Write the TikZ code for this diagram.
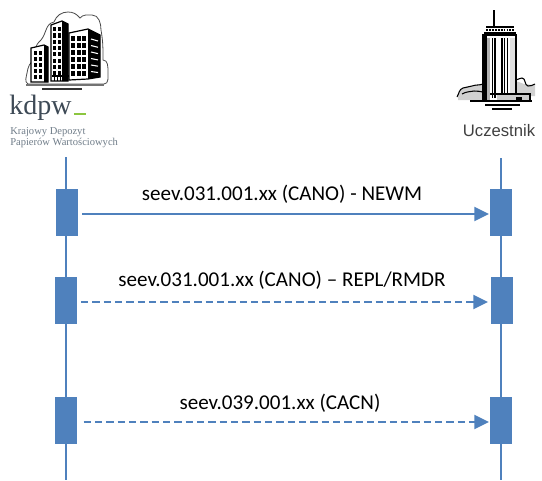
\documentclass[tikz,border=0pt]{standalone}
\usepackage{fontspec}
\setmainfont{Carlito}
\newfontfamily\arialf{Liberation Sans}
\newfontfamily\serifm{Liberation Serif}
\usetikzlibrary{arrows.meta}
\definecolor{blu}{HTML}{4F81BD}
\definecolor{kdpwtxt}{HTML}{3E4A56}
\definecolor{kdpwgray}{HTML}{6F7C88}
\definecolor{kdpwgreen}{HTML}{8CC63F}
\definecolor{ucz}{HTML}{404040}
\begin{document}
\begin{tikzpicture}[x=0.75pt,y=-0.75pt,
  lifeline/.style={draw=blu,line width=1.5pt},
  actbox/.style={fill=blu,draw=none,minimum width=16.5pt,minimum height=35.25pt,inner sep=0pt,outer sep=0pt},
  msg/.style={draw=blu,line width=1.5pt,-{Triangle[length=11pt,width=10.5pt]},shorten >=0.75pt},
  msgd/.style={msg,dash pattern=on 5.5pt off 3pt},
  lbl/.style={font=\fontsize{15.8}{19}\selectfont,anchor=base,inner sep=0pt},
  ink/.style={line width=0.9pt,draw=black},
  cloudline/.style={line width=0.6pt,draw=black!70},
  win/.style={fill=black},
]
\useasboundingbox (0,0) rectangle (542,480);

% ---------- kdpw building illustration ----------
\draw[cloudline,fill=white] (28,84) to[out=150,in=260] (27,73) to[out=80,in=200] (35,60)
  to[out=100,in=220] (41,40) to[out=50,in=190] (54,22) to[out=70,in=180] (68,12)
  to[out=0,in=130] (80,18) to[out=50,in=180] (92,15) to[out=0,in=90] (101,30)
  to[out=-80,in=90] (103,60) to[out=0,in=90] (108,72) to[out=-90,in=0] (104,84) -- cycle;
% left building
\draw[ink,fill=white] (31,48) -- (44,45) -- (48,47) -- (48,82) -- (31,82) -- cycle;
\fill (44,45) -- (48,47) -- (48,82) -- (44,82) -- cycle;
\foreach \r in {0,...,4}{\foreach \c in {0,1}{\fill[win] (33.5+\c*5,51+\r*6) rectangle ++(3.5,4);}}
% middle building
\draw[ink,fill=white] (51,25) -- (62,21) -- (68,24) -- (68,81) -- (51,81) -- cycle;
\fill (62,21) -- (68,24) -- (68,81) -- (62,81) -- cycle;
\foreach \r in {0,...,7}{\foreach \c in {0,1}{\fill[win] (53+\c*4.5,27+\r*6.3) rectangle ++(3.2,4.2);}}
% right building
\draw[ink,fill=white] (69,33) -- (88,29) -- (100,35) -- (100,77) -- (88,79) -- (69,80) -- cycle;
\fill (88,29) -- (100,35) -- (100,77) -- (88,79) -- cycle;
\foreach \r in {0,...,5}{\foreach \c in {0,1,2}{\fill[win] (71+\c*5.6,36+\r*7) rectangle ++(4.2,5);}}
\foreach \r in {0,...,5}{\draw[white,line width=0.8pt] (91,39+\r*6.5) -- (98,41+\r*6.3);}
% entrance / ground
\draw[ink] (52,76) -- (69,76);
\foreach \x in {54,57,...,66}{\draw[line width=0.7pt] (\x,76) -- (\x,81);}
\draw[line width=1pt,black!55] (26,85) -- (104,85);
\draw[line width=1.4pt,black!80] (42,89) -- (82,89);

% ---------- kdpw text ----------
\node[anchor=base west,inner sep=0pt,text=kdpwtxt,font=\serifm\fontsize{21}{24}\selectfont] (kdpw) at (9,114) {kdpw};
\draw[kdpwgreen,line width=1.3pt] ([xshift=1.5pt]kdpw.base east) -- ++(12,0);
\node[anchor=base west,inner sep=0pt,text=kdpwgray,font=\serifm\fontsize{7.9}{9}\selectfont] (kdpw2) at (10,134) {Krajowy Depozyt};
\node[anchor=base west,inner sep=0pt,text=kdpwgray,font=\serifm\fontsize{7.9}{9}\selectfont] (kdpw3) at (10,145) {Papierów Wartościowych};

% ---------- Uczestnik tower ----------
\draw[line width=1pt] (494,10) -- (494,27);
\draw[line width=0.8pt] (486,27) -- (514,27);
\draw[line width=2.2pt,dash pattern=on 1.4pt off 0.8pt] (486,30) -- (514,30);
\draw[line width=1.6pt] (484,33.5) -- (516,33.5);
% hills
\fill[black!18] (458,96) to[out=60,in=200] (464,88) to[out=10,in=190] (472,86) to[out=20,in=200] (483,84) -- (483,100) -- (458,100) -- cycle;
\draw[line width=0.8pt] (457,97) to[out=60,in=200] (463,88) to[out=10,in=190] (472,86) to[out=20,in=200] (483,84);
\draw[line width=0.8pt] (462,94) to[out=30,in=190] (474,91) to[out=10,in=180] (483,92);
\fill[black!18] (516,82) to[out=30,in=180] (524,84) to[out=0,in=200] (535,84) -- (535,96) -- (516,96) -- cycle;
\draw[line width=0.8pt] (516,80) to[out=10,in=180] (522,78) to[out=0,in=170] (528,86) to[out=-10,in=200] (535,84);
% body
\draw[line width=1.2pt,fill=white] (483,35) -- (516,35) -- (516,101) -- (483,101) -- cycle;
\fill (483,35) rectangle (487,101);
\fill[black!30] (487,38) rectangle (490,100);
\foreach \x in {492.5,495,502,504.5,507.5}{\draw[line width=0.8pt] (\x,38) -- (\x,98);}
\fill[black!12] (510,38) rectangle (515,100);
% base
\fill[black!20] (497,94) rectangle (530,101);
\draw[line width=0.9pt] (490,94) -- (530,94) -- (530,101);
\fill (516,97) rectangle (522,101);
\draw[line width=0.9pt] (470,101) -- (532,101);
\draw[line width=0.9pt] (485,105) -- (520,105);
\draw[line width=1.6pt] (492,109) -- (512,109);

\node[anchor=base,inner sep=0pt,text=ucz,font=\arialf\fontsize{12.5}{15}\selectfont] (uczest) at (499,136) {Uczestnik};

% ---------- lifelines ----------
\coordinate (Ltop) at (66,157);
\coordinate (Lbot) at (66,480);
\coordinate (Rtop) at (501,158);
\coordinate (Rbot) at (501,480);
\draw[lifeline] (Ltop) -- (Lbot);
\draw[lifeline] (Rtop) -- (Rbot);

% ---------- activation boxes ----------
\node[actbox] (L1) at (67,212.5) {};
\node[actbox] (L2) at (66,300.5) {};
\node[actbox] (L3) at (66,420.5) {};
\node[actbox] (R1) at (501,212.5) {};
\node[actbox] (R2) at (502,300.5) {};
\node[actbox] (R3) at (501,420.5) {};

% ---------- messages ----------
\draw[msg] ([xshift=3pt,yshift=-1.1pt]L1.east) -- ([yshift=-1.1pt]R1.west);
\draw[msgd] ([xshift=3pt,yshift=-1.1pt]L2.east) -- ([xshift=-1.5pt,yshift=-1.1pt]R2.west);
\draw[msgd] ([xshift=5pt,yshift=-1.1pt]L3.east) -- ([yshift=-1.1pt]R3.west);

\node[lbl] (m1) at (282,200) {seev.031.001.xx (CANO) - NEWM};
\node[lbl] (m2) at (282,286) {seev.031.001.xx (CANO) – REPL/RMDR};
\node[lbl] (m3) at (280,409) {seev.039.001.xx (CACN)};
\end{tikzpicture}
\end{document}
